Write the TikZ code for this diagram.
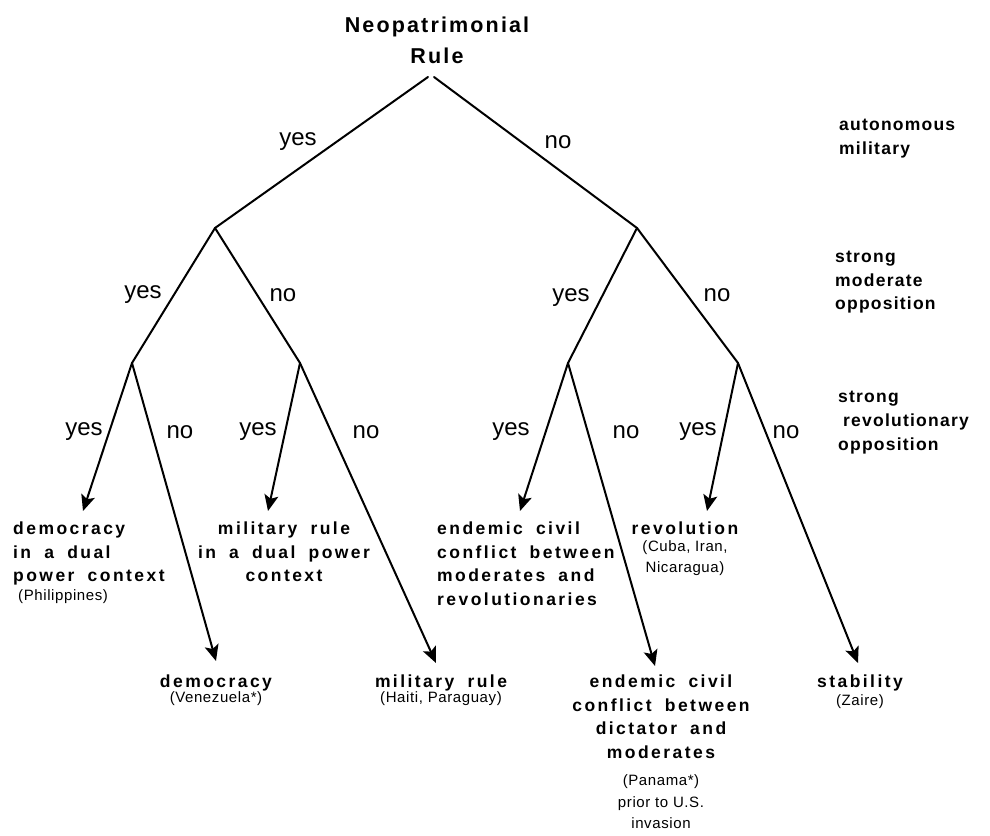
\documentclass[tikz,border=0pt]{standalone}
\usepackage{fontspec}
\setmainfont{Liberation Sans}
\newfontfamily\lblfont[LetterSpace=14,WordSpace=1.8]{Liberation Sans Bold}
\newfontfamily\sidefont[LetterSpace=7]{Liberation Sans Bold}
\newfontfamily\ttlfont[LetterSpace=10]{Liberation Sans Bold}
\newfontfamily\prnfont[LetterSpace=4]{Liberation Sans}
\newcommand\prnf{\prnfont\fontsize{15}{17}\selectfont}
\usetikzlibrary{arrows.meta}
\begin{document}
\begin{tikzpicture}[x=1pt,y=-1pt,
  edge/.style={line width=2pt, line cap=round},
  arr/.style={edge, -{Stealth[length=16pt,width=14pt,inset=3.5pt]}},
  yn/.style={font=\fontsize{24}{26}\selectfont, inner sep=0pt},
  lbl/.style={font=\fontsize{17.5}{23.5}\lblfont, inner sep=0pt},
  side/.style={font=\fontsize{17.5}{23.5}\sidefont, inner sep=0pt, align=left, anchor=north west}
]
\useasboundingbox (0,0) rectangle (990,835);
\fill[white] (0,0) rectangle (990,835);

% title
\node[font=\fontsize{21.5}{31}\ttlfont, align=center, inner sep=0pt] (root) at (437,40) {Neopatrimonial\\Rule};

% branch coordinates
\coordinate (topL) at (428,77);
\coordinate (topR) at (434,77);
\coordinate (A) at (215,228);
\coordinate (B) at (637,228);
\coordinate (AA) at (132,363);
\coordinate (AB) at (300,363);
\coordinate (BA) at (568,363);
\coordinate (BB) at (738,363);

\coordinate (t1) at (83,511);
\coordinate (t2) at (216,661);
\coordinate (t3) at (268,511);
\coordinate (t4) at (436,663);
\coordinate (t5) at (520,511);
\coordinate (t6) at (655,666);
\coordinate (t7) at (707,511);
\coordinate (t8) at (858,663);

\draw[edge] (topL) -- (A);
\draw[edge] (topR) -- (B);
\draw[edge] (A) -- (AA);
\draw[edge] (A) -- (AB);
\draw[edge] (B) -- (BA);
\draw[edge] (B) -- (BB);
\draw[arr] (AA) -- (t1);
\draw[arr] (AA) -- (t2);
\draw[arr] (AB) -- (t3);
\draw[arr] (AB) -- (t4);
\draw[arr] (BA) -- (t5);
\draw[arr] (BA) -- (t6);
\draw[arr] (BB) -- (t7);
\draw[arr] (BB) -- (t8);

% yes / no labels
\node[yn] (y1) at (298,142) {yes};
\node[yn] (n1) at (558,142) {no};
\node[yn] (y2) at (143,295) {yes};
\node[yn] (n2) at (283,295) {no};
\node[yn] (y3) at (571,298) {yes};
\node[yn] (n3) at (717,295) {no};
\node[yn] (y4) at (84,432) {yes};
\node[yn] (n4) at (180,432) {no};
\node[yn] (y5) at (258,432) {yes};
\node[yn] (n5) at (366,432) {no};
\node[yn] (y6) at (511,432) {yes};
\node[yn] (n6) at (626,432) {no};
\node[yn] (y7) at (698,432) {yes};
\node[yn] (n7) at (786,432) {no};

% side labels
\node[side] (s1) at (839,119) {autonomous\\military};
\node[side] (s2) at (835,251) {strong\\moderate\\opposition};
\node[side] (s3) at (838,391) {strong\\[0.5pt]\hspace*{5pt}revolutionary\\[0.5pt]opposition};

% leaves
\node[lbl, align=left, anchor=north west] (L1) at (13,522)
  {democracy\\in a dual\\power context\\[-5pt]\hspace*{5pt}{\prnf (Philippines)}};
\node[lbl, align=center, anchor=north] (L3) at (284,522)
  {military rule\\in a dual power\\context};
\node[lbl, align=left, anchor=north west] (L5) at (437,522)
  {endemic civil\\conflict between\\moderates and\\revolutionaries};
\node[lbl, align=center, anchor=north] (L7) at (685,522)
  {revolution\\[-7pt]{\prnf (Cuba, Iran,}\\[-2pt]{\prnf Nicaragua)}};
\node[lbl, align=center, anchor=north] (L2) at (216,675)
  {democracy\\[-9pt]{\prnf (Venezuela*)}};
\node[lbl, align=center, anchor=north] (L4) at (441,675)
  {military rule\\[-9pt]{\prnf (Haiti, Paraguay)}};
\node[lbl, align=center, anchor=north] (L6) at (661,675)
  {endemic civil\\conflict between\\dictator and\\moderates\\[4pt]{\prnf (Panama*)}\\[-2pt]{\prnf prior to U.S.}\\[-2pt]{\prnf invasion}};
\node[lbl, align=center, anchor=north] (L8) at (860,675)
  {stability\\[-6pt]{\prnf (Zaire)}};
\end{tikzpicture}
\end{document}
